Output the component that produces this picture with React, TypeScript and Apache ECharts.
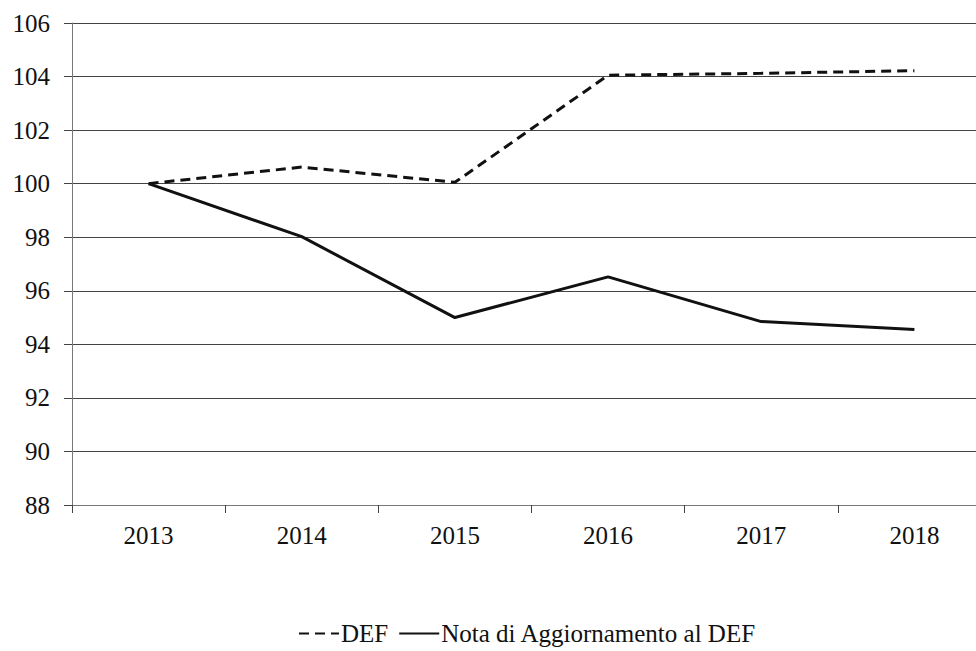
import React, { useEffect, useRef } from "react";
import * as echarts from "echarts";

const years = ["2013", "2014", "2015", "2016", "2017", "2018"];
const defValues = [100, 100.62, 100.05, 104.05, 104.12, 104.22];
const notaValues = [100, 98.02, 95.0, 96.52, 94.85, 94.55];
const seriesNames = ["DEF", "Nota di Aggiornamento al DEF"];

const FONT = "'Liberation Serif', 'Times New Roman', serif";

export default function App() {
  const ref = useRef<HTMLDivElement>(null);
  useEffect(() => {
    if (!ref.current) return;
    const chart = echarts.init(ref.current, null, { renderer: "svg" });
    chart.setOption({
      animation: false,
      backgroundColor: "#ffffff",
      textStyle: { fontFamily: FONT },
      grid: {
        left: 72,
        top: 23,
        width: 919,
        height: 482,
        containLabel: false,
        outerBoundsMode: "none",
      },
      legend: {
        data: seriesNames,
        left: 298,
        top: 621,
        padding: 0,
        itemWidth: 40,
        itemHeight: 14,
        itemGap: 10,
        itemStyle: { opacity: 0 },
        textStyle: { fontFamily: FONT, fontSize: 25, color: "#111", padding: [0, 0, 0, -3] },
      },
      xAxis: {
        type: "category",
        data: years,
        boundaryGap: true,
        axisLine: { lineStyle: { color: "#777", width: 1 } },
        axisTick: { show: true, length: 8, inside: false, lineStyle: { color: "#444" } },
        axisLabel: { fontFamily: FONT, fontSize: 25, color: "#111", margin: 18 },
        splitLine: { show: false },
      },
      yAxis: {
        type: "value",
        min: 88,
        max: 106,
        interval: 2,
        axisLine: { show: true, lineStyle: { color: "#777", width: 1 } },
        axisTick: { show: true, length: 8, lineStyle: { color: "#444" } },
        axisLabel: { fontFamily: FONT, fontSize: 25, color: "#111", margin: 22 },
        splitLine: { show: true, lineStyle: { color: "#444", width: 1 } },
      },
      series: [
        {
          name: seriesNames[0],
          type: "line",
          data: defValues,
          symbol: "none",
          lineStyle: { color: "#111", width: 3, type: [10, 6] },
          itemStyle: { color: "#111" },
        },
        {
          name: seriesNames[1],
          type: "line",
          data: notaValues,
          symbol: "none",
          lineStyle: { color: "#111", width: 3, type: "solid" },
          itemStyle: { color: "#111" },
        },
      ],
    });
    return () => chart.dispose();
  }, []);
  return (
    <div
      ref={ref}
      style={{ position: "absolute", left: 0, top: 0, width: 976, height: 651 }}
    />
  );
}
